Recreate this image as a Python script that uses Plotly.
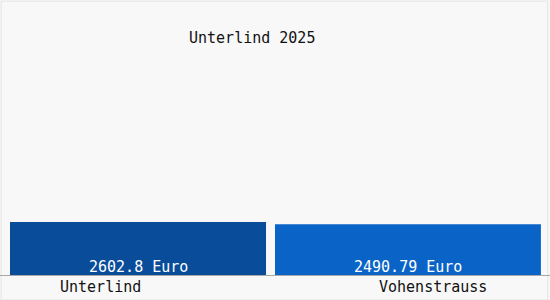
import plotly.graph_objects as go

categories = ["Unterlind", "Vohenstrauss"]
values = [2602.8, 2490.79]
value_labels = ["2602.8 Euro", "2490.79 Euro"]
title_text = "Unterlind 2025"

bar_colors = ["#084C9A", "#0A64C8"]
FONT = "DejaVu Sans Mono"

fig = go.Figure()
fig.add_trace(go.Bar(
    x=categories,
    y=values,
    marker=dict(color=bar_colors, line=dict(width=0)),
    offset=[-0.4636, -0.5],
    width=[0.931, 0.967],
    hoverinfo="skip",
))

label_pos = [0.182, 0.787]
value_xshift = [1, -5]
annotations = [
    dict(text=title_text, x=252 / 550, y=1 - 38 / 275, xref="paper", yref="paper",
         showarrow=False, xanchor="center", yanchor="middle",
         font=dict(family=FONT, size=15, color="#111111")),
]
for c, p in zip(categories, label_pos):
    annotations.append(dict(text=c, x=p, y=-12 / 275, xref="paper", yref="paper",
                            showarrow=False, xanchor="center", yanchor="middle",
                            font=dict(family=FONT, size=15, color="#111111")))
for c, t, xs in zip(categories, value_labels, value_xshift):
    annotations.append(dict(text=t, x=c, y=0, xref="x", yref="y",
                            showarrow=False, xanchor="center", yanchor="bottom",
                            xshift=xs, yshift=-2, borderpad=0,
                            font=dict(family=FONT, size=15, color="white")))

fig.update_layout(
    width=550, height=300,
    margin=dict(l=0, r=0, t=0, b=25),
    paper_bgcolor="#F8F8F8",
    plot_bgcolor="#F8F8F8",
    showlegend=False,
    annotations=annotations,
    xaxis=dict(range=[-0.5, 1.5], showticklabels=False, ticks="", showgrid=False,
               zeroline=False, showline=True, linecolor="#A8A8A8", linewidth=1, fixedrange=True),
    yaxis=dict(range=[0, 13500], showticklabels=False, ticks="", showgrid=False,
               zeroline=False, showline=False, fixedrange=True),
    shapes=[
        dict(type="rect", xref="paper", yref="paper", x0=0.002, x1=0.996, y0=-25 / 275, y1=0.996,
             line=dict(color="#E4E4E4", width=1), layer="below"),
    ],
)

fig.write_html("out.html")
